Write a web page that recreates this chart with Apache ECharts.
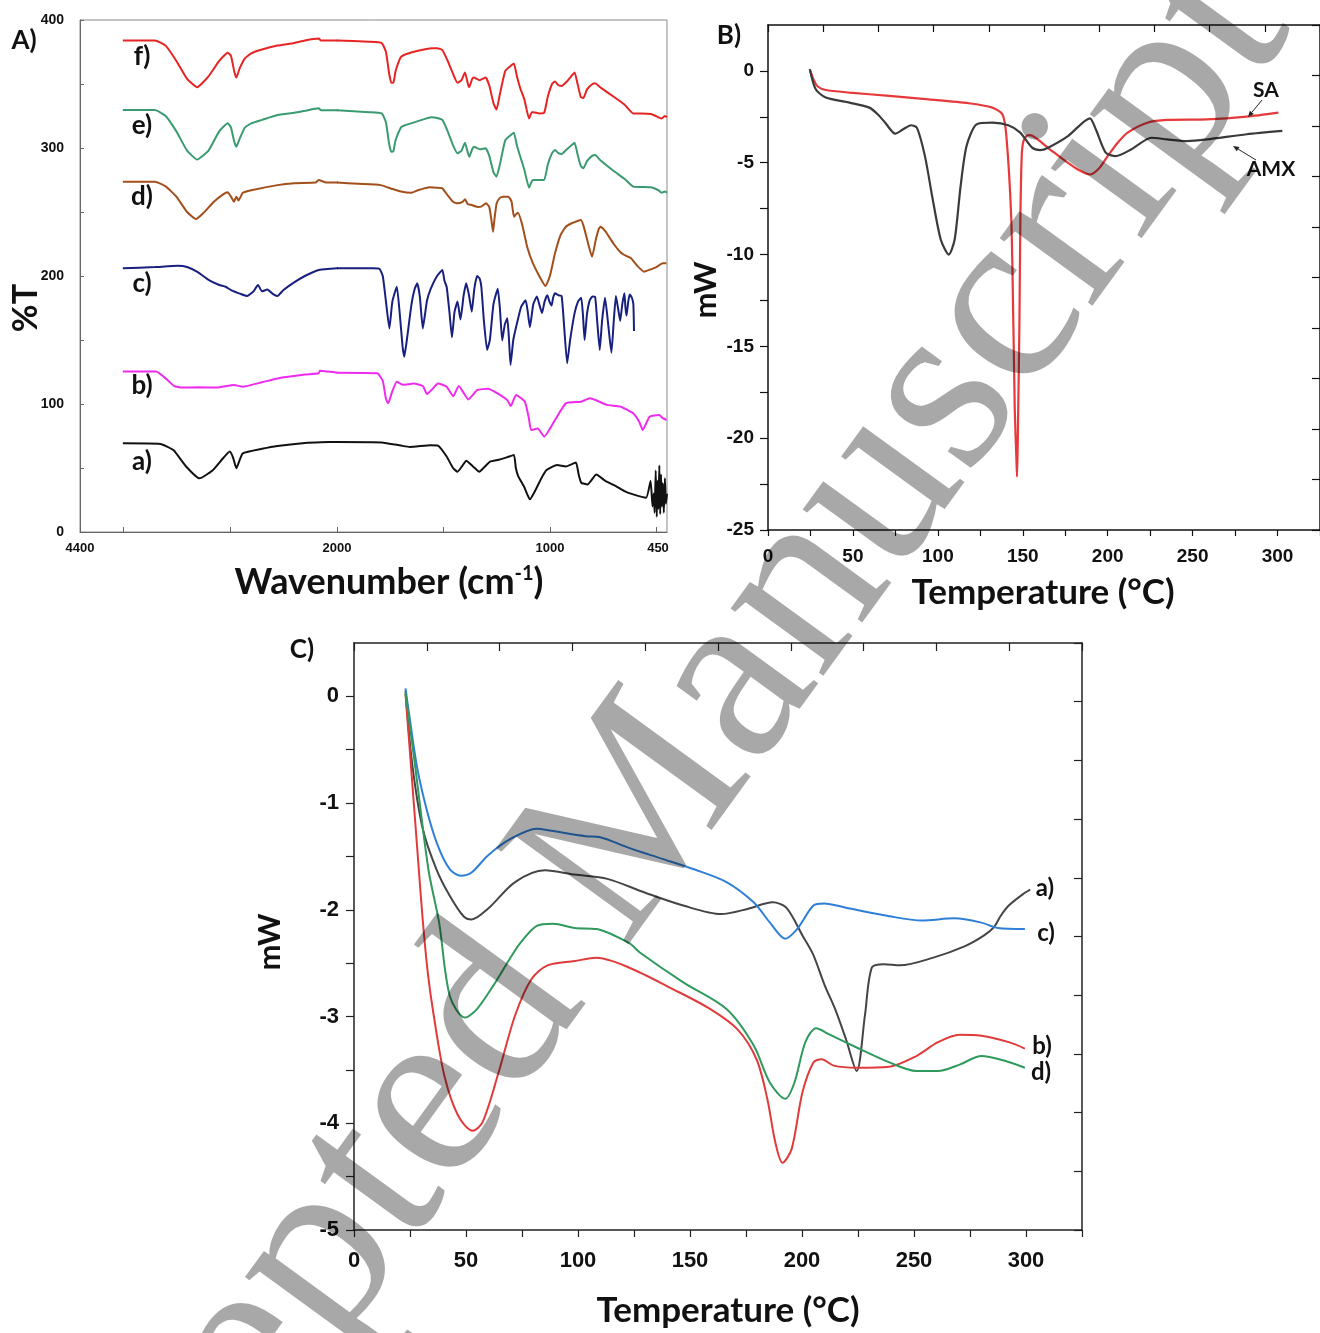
<!DOCTYPE html>
<html>
<head>
<meta charset="utf-8">
<script src="https://cdn.jsdelivr.net/npm/echarts@6/dist/echarts.min.js"></script>
<style>
  html, body { margin: 0; padding: 0; background: #fff; }
  #chart { width: 1320px; height: 1333px; }
</style>
</head>
<body>
<div id="chart"></div>
<script>
// ---------- FTIR spectra (panel A): [wavenumber cm-1, %T] ----------
const ftirA = [[4000,69.3],[3650,68.8],[3528,64],[3407,51],[3284,41.9],[3163,48],[3060,58],[3001,62.8],[2970,58],[2940,49.8],[2910,56],[2880,61.5],[2700,65],[2556,67.2],[2300,69.5],[2151,70.1],[2000,70.3],[1790,70],[1700,67.5],[1658,66.4],[1560,67.8],[1526,67.5],[1485,59],[1455,50],[1434,47.1],[1410,52],[1393,55.7],[1360,51],[1332,47.1],[1300,52],[1281,55],[1240,56.5],[1200,58.5],[1169,60.2],[1160,50],[1149,43.7],[1120,35],[1094,25.5],[1070,32],[1040,42],[1016,48.4],[966,52.3],[925,51.1],[878,54.2],[865,45],[853,38.5],[823,37.2],[782,45],[740,40],[690,35.9],[650,32],[609,29.4],[548,26.8],[527,39.8],[518,20],[512,30],[508,15],[503,48],[498,12],[494,40],[490,18],[486,52],[482,14],[478,45],[474,20],[470,38],[465,15],[460,42],[455,22],[450,30]];
const ftirB = [[4000,125.3],[3690,125.3],[3600,120],[3520,114],[3447,112.8],[3300,113],[3123,112.8],[2961,114.8],[2880,113.5],[2700,117],[2556,120],[2300,123],[2171,124],[2160,126],[2000,124.5],[1811,124],[1785,118],[1770,104],[1760,100.5],[1740,110],[1719,117.4],[1689,115],[1640,116],[1597,114],[1577,107.8],[1550,112],[1526,116],[1485,113.5],[1454,106],[1428,114.1],[1383,103.6],[1342,110.8],[1291,112],[1240,107.8],[1200,103],[1184,98.4],[1159,107],[1118,102],[1100,90],[1088,79.7],[1057,80.8],[1027,74.5],[976,87.5],[925,100.5],[853,101.8],[813,104.4],[731,99.3],[670,98],[609,92.8],[580,86],[564,79.7],[532,90],[487,91.4],[470,89],[452,87.5]];
const ftirC = [[4000,206],[3700,207],[3487,208],[3400,207],[3300,203],[3200,197],[3100,193],[3041,191.6],[2990,189],[2900,186],[2840,184.4],[2780,188],[2738,193],[2700,188],[2650,189.5],[2600,186],[2556,184.4],[2500,189],[2400,195],[2300,200],[2171,204.7],[2000,206],[1900,206],[1831,206],[1800,205.5],[1785,200],[1770,180],[1754,159],[1740,180],[1719,191.6],[1705,170],[1692,145],[1684,137],[1672,150],[1650,178],[1635,190],[1623,194.3],[1611,184],[1597,159],[1585,172],[1577,181],[1560,190],[1530,200],[1505,204.7],[1495,196],[1485,191.6],[1472,172],[1460,152],[1448,172],[1434,180],[1420,166],[1405,185],[1393,194.3],[1380,185],[1367,172],[1355,190],[1342,200],[1330,198],[1322,191.6],[1310,165],[1295,142.2],[1282,150],[1265,178],[1245,190],[1235,175],[1224,149.6],[1212,162],[1200,167],[1192,150],[1185,130.5],[1172,150],[1159,160],[1135,176],[1114,181],[1104,172],[1094,160],[1078,178],[1061,184],[1050,178],[1037,171],[1025,180],[1012,185],[1002,180],[992,177],[985,183],[976,186.5],[960,185],[945,184.4],[935,165],[919,131.8],[905,150],[884,171],[868,180],[853,183],[845,170],[837,150],[826,170],[813,181],[800,184],[788,183.9],[778,165],[766,142.2],[755,165],[741,183],[728,165],[711,140],[700,165],[690,184.4],[680,175],[670,164.8],[660,178],[650,186.5],[645,175],[640,169],[632,180],[625,185.6],[615,183],[608,178],[605,157]];
const ftirD = [[4000,273.7],[3700,273.7],[3600,270],[3500,262],[3400,250],[3317,244.5],[3250,249],[3150,258],[3060,264],[3021,265.4],[2990,262],[2962,258],[2940,262],[2920,259],[2880,265],[2800,267],[2556,271],[2400,272.5],[2200,273],[2171,275],[2100,273],[2000,273],[1900,272],[1795,271],[1740,268],[1700,266],[1652,265],[1620,267],[1566,269.3],[1530,269],[1505,268.5],[1480,263],[1455,258],[1434,256.8],[1410,258],[1399,259.9],[1385,256],[1370,255.6],[1340,254],[1323,254.2],[1300,256.8],[1285,254],[1275,244],[1267,234.6],[1260,245],[1250,256.8],[1235,261],[1220,262],[1195,262],[1180,258],[1169,246.3],[1160,248],[1150,249.4],[1130,240],[1107,222.9],[1080,210],[1050,200],[1021,192.2],[1000,200],[976,217.7],[950,232],[925,238.5],[900,241],[870,243],[854,243.7],[840,238],[820,225],[802,215],[785,228],[770,237],[762,238.5],[740,235],[700,225],[671,219],[650,216.4],[620,214],[590,208],[558,203.4],[530,205],[500,207],[470,209.9],[453,209.9]];
const ftirE = [[4000,329.7],[3700,329.7],[3600,325],[3500,313],[3400,298],[3307,291],[3200,298],[3100,313],[3020,319.3],[2990,316],[2960,305],[2940,301],[2910,307],[2860,316],[2800,319.3],[2700,322],[2556,325.8],[2400,327.5],[2300,329],[2171,331],[2150,329.5],[2000,329.5],[1850,328],[1790,327],[1770,320],[1755,303],[1745,297],[1735,297.5],[1725,306],[1700,316],[1689,317.2],[1620,321],[1556,324],[1530,323.5],[1505,321.9],[1480,313],[1455,302],[1434,295.8],[1415,298],[1399,304.1],[1385,296],[1379,293.2],[1365,299],[1357,301],[1330,299],[1302,299.8],[1285,294],[1265,281],[1251,277.6],[1235,287],[1210,306],[1185,310],[1169,312],[1155,302],[1139,293.2],[1120,283],[1098,269],[1085,274],[1078,275],[1050,275],[1027,275],[1010,287],[990,296],[976,298.4],[960,296],[945,295.3],[920,299],[900,302],[884,304.1],[870,295],[855,286],[843,284.1],[825,290],[800,294],[788,294.5],[760,290],[700,282],[650,276],[608,269.8],[570,269.5],[526,269.3],[490,267],[476,265],[460,266],[450,265]];
const ftirF = [[4000,384],[3700,384],[3600,380],[3500,368],[3400,354],[3307,347.5],[3200,356],[3100,368],[3020,374.5],[2990,372],[2960,360],[2940,355],[2910,362],[2860,370],[2800,374],[2700,377],[2556,380],[2400,382],[2300,384],[2171,385.5],[2150,384],[2000,384],[1850,383],[1790,382],[1770,375],[1755,358],[1745,351],[1735,351],[1725,360],[1700,371],[1680,373],[1620,376],[1556,378],[1530,378],[1505,376.5],[1480,368],[1455,358],[1434,351],[1415,353],[1399,359],[1385,350],[1379,347.5],[1365,354],[1357,355],[1330,353],[1302,355],[1285,349],[1265,335],[1251,330],[1235,342],[1210,360],[1185,364],[1169,366],[1155,356],[1139,346.5],[1120,338],[1098,323],[1085,328],[1078,328],[1050,327],[1027,327.5],[1010,340],[990,350],[976,352],[960,349],[945,348.5],[920,352],[900,356],[884,359],[870,350],[855,340],[843,339],[825,346],[800,350],[788,350.5],[760,347],[700,340],[650,334],[608,327],[570,327],[526,326.5],[490,324],[476,323],[460,325],[450,324]];
const ftirLabels = ['a)', 'b)', 'c)', 'd)', 'e)', 'f)'];
const ftirColors = ['#111111', '#ee2bee', '#18207f', '#a24f1c', '#3a9a70', '#e52424'];

// ---------- DSC (panel B): [temperature °C, mW] ----------
const dscSA = [[24.6,0.09],[27,-0.5],[29.3,-0.85],[34,-1.04],[48,-1.18],[71.4,-1.36],[94.7,-1.55],[118.1,-1.76],[132.1,-2.0],[138,-2.36],[140.3,-3.5],[143.2,-8],[144.5,-14],[145.3,-18.5],[146.2,-21],[146.6,-22.1],[147.0,-20.5],[147.3,-18.6],[148.0,-14],[148.6,-8],[149.4,-4.6],[150.5,-3.8],[153,-3.5],[155,-3.51],[165,-4.2],[175,-4.9],[183,-5.4],[189.5,-5.64],[195,-5.3],[200,-4.64],[206,-3.9],[211.7,-3.36],[223.4,-2.82],[235,-2.67],[258.4,-2.64],[281.8,-2.49],[300.5,-2.27]];
const dscAMX = [[24.6,0.09],[28.1,-1.0],[34,-1.45],[48,-1.73],[59.7,-2.0],[65,-2.4],[69,-2.82],[74.9,-3.42],[79.6,-3.18],[84.2,-2.96],[87.7,-3.1],[92.4,-4.64],[97,-7.0],[101.7,-9.18],[106.4,-10.0],[109.9,-9.18],[113.4,-6.27],[116.9,-4.09],[122.8,-2.91],[132.1,-2.82],[141.5,-2.96],[148.5,-3.36],[155.5,-4.18],[160.2,-4.31],[164.9,-4.18],[176.6,-3.55],[189.5,-2.58],[193,-3.18],[198.8,-4.45],[204.7,-4.64],[214,-4.27],[225.7,-3.64],[235,-3.73],[246.7,-3.82],[258.4,-3.73],[281.8,-3.45],[302.8,-3.27]];
const dscBNames = ['SA', 'AMX'];

// ---------- DSC (panel C): [temperature °C, mW] ----------
const dscCa = [[23,0.05],[25.9,-0.62],[30.7,-1.24],[36.8,-1.62],[42.8,-1.87],[48.9,-2.06],[52.5,-2.09],[59.8,-1.99],[71.9,-1.74],[85.2,-1.63],[98.5,-1.67],[113.1,-1.71],[130,-1.84],[147,-1.96],[163.9,-2.04],[176,-1.99],[186.9,-1.93],[193,-1.98],[200.2,-2.24],[205,-2.42],[210,-2.7],[214.8,-2.93],[219.6,-3.21],[224.4,-3.51],[228.1,-2.99],[231.2,-2.54],[236.5,-2.51],[243.7,-2.52],[258.3,-2.45],[272.8,-2.34],[281.3,-2.24],[285.8,-2.16],[288.6,-2.06],[292.3,-1.96],[299.5,-1.84],[301.9,-1.81]];
const dscCb = [[23,0.02],[25.9,-0.78],[28.5,-1.5],[30.7,-2.1],[33,-2.6],[35.6,-2.99],[40.4,-3.56],[46.5,-3.93],[53,-4.07],[57.4,-3.99],[64.6,-3.52],[71.9,-2.99],[79.2,-2.65],[86.4,-2.52],[98.5,-2.48],[108.2,-2.45],[122.7,-2.54],[142.1,-2.74],[159.1,-2.93],[171.2,-3.12],[179.7,-3.40],[184.5,-3.77],[188.1,-4.18],[191.3,-4.37],[195.4,-4.24],[200.2,-3.71],[205.1,-3.43],[208.7,-3.40],[214.2,-3.46],[224.4,-3.48],[239,-3.47],[251.1,-3.37],[260.7,-3.24],[270.4,-3.17],[280.1,-3.18],[292.3,-3.24],[299.5,-3.30]];
const dscCc = [[23,0.075],[24.7,-0.18],[28.3,-0.68],[33.2,-1.12],[38,-1.43],[42.8,-1.62],[47.7,-1.68],[52.5,-1.65],[59.8,-1.49],[69.5,-1.34],[81.6,-1.24],[88.1,-1.26],[103.4,-1.31],[110,-1.32],[122.7,-1.42],[137.3,-1.52],[151.8,-1.62],[166.3,-1.74],[178.4,-1.93],[185.7,-2.12],[192.5,-2.27],[197.8,-2.18],[205.1,-1.96],[209.9,-1.94],[219.6,-1.98],[239,-2.06],[253.5,-2.10],[268,-2.08],[280.1,-2.12],[287.4,-2.17],[299.5,-2.18]];
const dscCd = [[23,0.03],[27.1,-0.62],[33.2,-1.62],[38,-2.12],[42.8,-2.81],[49.6,-3.01],[54.9,-2.93],[62.2,-2.71],[69.5,-2.46],[74.3,-2.31],[81.6,-2.15],[88.9,-2.13],[98.5,-2.17],[108.2,-2.18],[122.7,-2.31],[127.6,-2.40],[147,-2.68],[166.3,-2.93],[178.4,-3.27],[185.7,-3.62],[192.5,-3.77],[196.6,-3.62],[201.5,-3.24],[206.3,-3.11],[212.4,-3.17],[224.4,-3.29],[239,-3.43],[251.1,-3.51],[260.7,-3.51],[270.4,-3.45],[280.1,-3.37],[289.8,-3.41],[299.5,-3.48]];
const dscCLabels = ['a)', 'b)', 'c)', 'd)'];

// ---------- tick labels ----------
const wnLabelsHigh = [4400, 2000];
const wnLabelsLow = [1000, 450];
const wnTicksHigh = [4000, 3000];
const wnTicksLow = [2000, 1500, 1000, 500];
const tLabels = [0, 100, 200, 300, 400];
const tempLabels = [0, 50, 100, 150, 200, 250, 300];
const mwLabelsB = [-25, -20, -15, -10, -5, 0];
const mwLabelsC = [-5, -4, -3, -2, -1, 0];

const NARROW = "'Liberation Sans Narrow','Liberation Sans',Arial,sans-serif";
const TITLE = "Lato,'Open Sans',sans-serif";
const plain = v => String(v);

function range(a, b, s) { const r = []; for (let v = a; v <= b + 1e-9; v += s) r.push(+v.toFixed(4)); return r; }

// split a spectrum at 2000 cm-1 (the axis changes scale there); the neighbouring
// point on the other side is kept so the clipped segment joins across the break
function splitAt(arr, wn) {
  const hi = [], lo = [];
  for (let i = 0; i < arr.length; i++) {
    if (arr[i][0] >= wn) hi.push(arr[i]);
    if (arr[i][0] <= wn) lo.push(arr[i]);
  }
  const iLo = arr.findIndex(p => p[0] < wn);
  if (iLo > 0) { hi.push(arr[iLo]); lo.unshift(arr[iLo - 1]); }
  return [hi, lo];
}

const chart = echarts.init(document.getElementById('chart'), null, { renderer: 'canvas' });

const hiddenAxis = (gi, extra) => Object.assign({ gridIndex: gi, type: 'value', show: false }, extra);
const line = (c, w) => ({ show: true, onZero: false, lineStyle: { color: c, width: w } });
const wnLabelStyle = { fontFamily: NARROW, fontWeight: 'bold', fontSize: 13, color: '#111' };

const xAxes = [
  // 0: panel A high-wavenumber part
  { gridIndex: 0, type: 'value', inverse: true, min: 2000, max: 4400, axisLine: line('#666', 1),
    axisTick: { show: true, inside: true, length: 5, customValues: wnTicksHigh, lineStyle: { color: '#666' } },
    axisLabel: Object.assign({ customValues: wnLabelsHigh, formatter: plain, margin: 10 }, wnLabelStyle),
    splitLine: { show: false } },
  // 1: panel A low-wavenumber part (double scale); the end label sits inside the frame
  { gridIndex: 1, type: 'value', inverse: true, min: 450, max: 2000, axisLine: line('#666', 1),
    axisTick: { show: true, inside: true, length: 5, customValues: wnTicksLow, lineStyle: { color: '#666' } },
    axisLabel: Object.assign({ customValues: wnLabelsLow, margin: 10,
      formatter: v => (v === 450 ? '{r|450}' : String(v)),
      rich: { r: Object.assign({ padding: [0, 18, 0, 0] }, wnLabelStyle) } }, wnLabelStyle),
    splitLine: { show: false } },
  hiddenAxis(2, { min: 0, max: 1 }),
  // 3: panel B bottom
  { gridIndex: 3, type: 'value', min: 0, max: 325, interval: 25, axisLine: line('#111', 1.5),
    axisTick: { show: true, inside: false, length: 6, lineStyle: { color: '#111', width: 1.2 } },
    axisLabel: { customValues: tempLabels, formatter: plain, fontFamily: NARROW, fontWeight: 'bold', fontSize: 19, color: '#111', margin: 17 },
    splitLine: { show: false } },
  // 4: panel B top
  { gridIndex: 3, type: 'value', position: 'top', min: 0, max: 10, interval: 1, axisLine: line('#111', 1.5),
    axisTick: { show: true, inside: true, length: 7, lineStyle: { color: '#111', width: 1.2 } },
    axisLabel: { show: false }, splitLine: { show: false } },
  // 5: panel C bottom
  { gridIndex: 4, type: 'value', min: 0, max: 325, interval: 25, axisLine: line('#222', 1.5),
    axisTick: { show: true, inside: false, length: 7, lineStyle: { color: '#222', width: 1.2 } },
    axisLabel: { customValues: tempLabels, formatter: plain, fontFamily: NARROW, fontWeight: 'bold', fontSize: 22, color: '#111', margin: 20 },
    splitLine: { show: false } },
  // 6: panel C top
  { gridIndex: 4, type: 'value', position: 'top', min: 0, max: 10, interval: 1, axisLine: line('#222', 1.5),
    axisTick: { show: true, inside: true, length: 8, lineStyle: { color: '#222', width: 1.2 } },
    axisLabel: { show: false }, splitLine: { show: false } }
];

const yAxes = [
  hiddenAxis(0, { min: 0, max: 400 }),
  hiddenAxis(1, { min: 0, max: 400 }),
  // 2: panel A %T
  { gridIndex: 2, type: 'value', min: 0, max: 400, axisLine: line('#666', 1),
    axisTick: { show: true, inside: true, length: 4, customValues: range(0, 400, 50), lineStyle: { color: '#666' } },
    axisLabel: { customValues: tLabels, formatter: plain, fontFamily: NARROW, fontWeight: 'bold', fontSize: 14, color: '#111', margin: 16 },
    splitLine: { show: false } },
  // 3: panel B left
  { gridIndex: 3, type: 'value', min: -25, max: 2.5, axisLine: line('#111', 1.5),
    axisTick: { show: true, inside: false, length: 8, customValues: range(-25, 0, 2.5), lineStyle: { color: '#111', width: 1.2 } },
    axisLabel: { customValues: mwLabelsB, formatter: plain, fontFamily: NARROW, fontWeight: 'bold', fontSize: 19, color: '#111', margin: 14 },
    splitLine: { show: false } },
  // 4: panel B right
  { gridIndex: 3, type: 'value', position: 'right', min: 0, max: 10, interval: 1, axisLine: line('#111', 1.5),
    axisTick: { show: true, inside: true, length: 8, lineStyle: { color: '#111', width: 1.2 } },
    axisLabel: { show: false }, splitLine: { show: false } },
  // 5: panel C left
  { gridIndex: 4, type: 'value', min: -5, max: 0.5, axisLine: line('#222', 1.5),
    axisTick: { show: true, inside: false, length: 8, customValues: range(-5, 0, 0.5), lineStyle: { color: '#222', width: 1.2 } },
    axisLabel: { customValues: mwLabelsC, formatter: plain, fontFamily: NARROW, fontWeight: 'bold', fontSize: 22, color: '#111', margin: 15 },
    splitLine: { show: false } },
  // 6: panel C right
  { gridIndex: 4, type: 'value', position: 'right', min: 0, max: 10, interval: 1, axisLine: line('#222', 1.5),
    axisTick: { show: true, inside: true, length: 8, lineStyle: { color: '#222', width: 1.2 } },
    axisLabel: { show: false }, splitLine: { show: false } }
];

const series = [];
[ftirA, ftirB, ftirC, ftirD, ftirE, ftirF].forEach((spec, i) => {
  const [hi, lo] = splitAt(spec, 2000);
  [hi, lo].forEach((part, k) => series.push({
    type: 'line', name: ftirLabels[i], xAxisIndex: k, yAxisIndex: k, data: part,
    showSymbol: false, symbol: 'none', clip: true, smooth: 0.15,
    lineStyle: { color: ftirColors[i], width: 2 }, silent: true
  }));
});
[[dscSA, '#e8393a'], [dscAMX, '#3b3b3b']].forEach(([d, c], i) => series.push({
  type: 'line', name: dscBNames[i], xAxisIndex: 3, yAxisIndex: 3, data: d,
  showSymbol: false, symbol: 'none', smooth: 0.25, lineStyle: { color: c, width: 2.2 }, silent: true
}));
[[dscCa, '#454545'], [dscCb, '#e03b3b'], [dscCc, '#2f7fd6'], [dscCd, '#2f9a5c']].forEach(([d, c], i) => series.push({
  type: 'line', name: dscCLabels[i], xAxisIndex: 5, yAxisIndex: 5, data: d,
  showSymbol: false, symbol: 'none', smooth: 0.3, lineStyle: { color: c, width: 2 }, silent: true
}));

function txt(x, y, text, font, extra) {
  return Object.assign({ type: 'text', x, y, z: 50,
    style: { text, font, fill: '#111', textAlign: 'center', textVerticalAlign: 'middle', align: 'center', verticalAlign: 'middle' } }, extra || {});
}
function arrow(x1, y1, x2, y2) {
  const a = Math.atan2(y2 - y1, x2 - x1), L = 6, W = 2.6;
  const bx = x2 - L * Math.cos(a), by = y2 - L * Math.sin(a);
  return [
    { type: 'line', z: 50, shape: { x1, y1, x2: bx, y2: by }, style: { stroke: '#222', lineWidth: 1 } },
    { type: 'polygon', z: 50, shape: { points: [[x2, y2], [bx + W * Math.sin(a), by - W * Math.cos(a)], [bx - W * Math.sin(a), by + W * Math.cos(a)]] }, style: { fill: '#222' } }
  ];
}

const B26 = 'bold 26px ' + TITLE;
const graphic = [
  // panel A
  txt(24, 41, 'A)', B26),
  txt(26, 308, '%T', 'bold 34px ' + TITLE, { rotation: Math.PI / 2 }),
  { type: 'text', x: 389, y: 582, z: 50, style: {
      text: '{m|Wavenumber (cm}{s|-1}{m|)}', align: 'center', verticalAlign: 'middle', textAlign: 'center', textVerticalAlign: 'middle',
      rich: { m: { font: 'bold 36px ' + TITLE, fill: '#111' }, s: { font: 'bold 20px ' + TITLE, fill: '#111', verticalAlign: 'top' } } } },
  txt(142, 57, ftirLabels[5], B26), txt(142, 126, ftirLabels[4], B26), txt(142, 197, ftirLabels[3], B26),
  txt(142, 284, ftirLabels[2], B26), txt(142, 386, ftirLabels[1], B26), txt(142, 462, ftirLabels[0], B26),
  // panel B
  txt(729, 36, 'B)', B26),
  txt(706, 290, 'mW', 'bold 31px ' + TITLE, { rotation: Math.PI / 2 }),
  txt(1043, 593, 'Temperature (°C)', 'bold 35px ' + TITLE),
  txt(1266, 90, dscBNames[0], 'bold 21px ' + TITLE),
  txt(1271, 169, dscBNames[1], 'bold 21px ' + TITLE),
  ...arrow(1262, 100, 1248, 117),
  ...arrow(1256, 160, 1233, 146),
  // panel C
  txt(302, 650, 'C)', B26),
  txt(270, 942, 'mW', 'bold 31px ' + TITLE, { rotation: Math.PI / 2 }),
  txt(728, 1311, 'Temperature (°C)', 'bold 35px ' + TITLE),
  txt(1045, 888, dscCLabels[0], 'bold 24px ' + TITLE), txt(1046, 933, dscCLabels[2], 'bold 24px ' + TITLE),
  txt(1042, 1046, dscCLabels[1], 'bold 24px ' + TITLE), txt(1041, 1072, dscCLabels[3], 'bold 24px ' + TITLE),
  // diagonal manuscript watermark over the whole figure
  { type: 'text', x: 610, y: 858, rotation: 54 * Math.PI / 180, z: 100,
    style: { text: 'Accepted Manuscript', font: '250px "Liberation Serif", "DejaVu Serif", serif',
      fill: 'rgba(0,0,0,0.34)', textAlign: 'center', textVerticalAlign: 'middle', align: 'center', verticalAlign: 'middle' } }
];

chart.setOption({
  animation: false,
  backgroundColor: '#ffffff',
  grid: [
    { left: 80, top: 20, width: 257, height: 512 },
    { left: 337, top: 20, width: 330, height: 512 },
    { left: 80, top: 20, width: 587, height: 512, show: true, borderColor: '#8a8a8a', borderWidth: 1, backgroundColor: 'transparent' },
    { left: 768, top: 25, width: 558, height: 505 },
    { left: 354, top: 643, width: 728, height: 587 }
  ],
  xAxis: xAxes,
  yAxis: yAxes,
  series,
  graphic
});
</script>
</body>
</html>
